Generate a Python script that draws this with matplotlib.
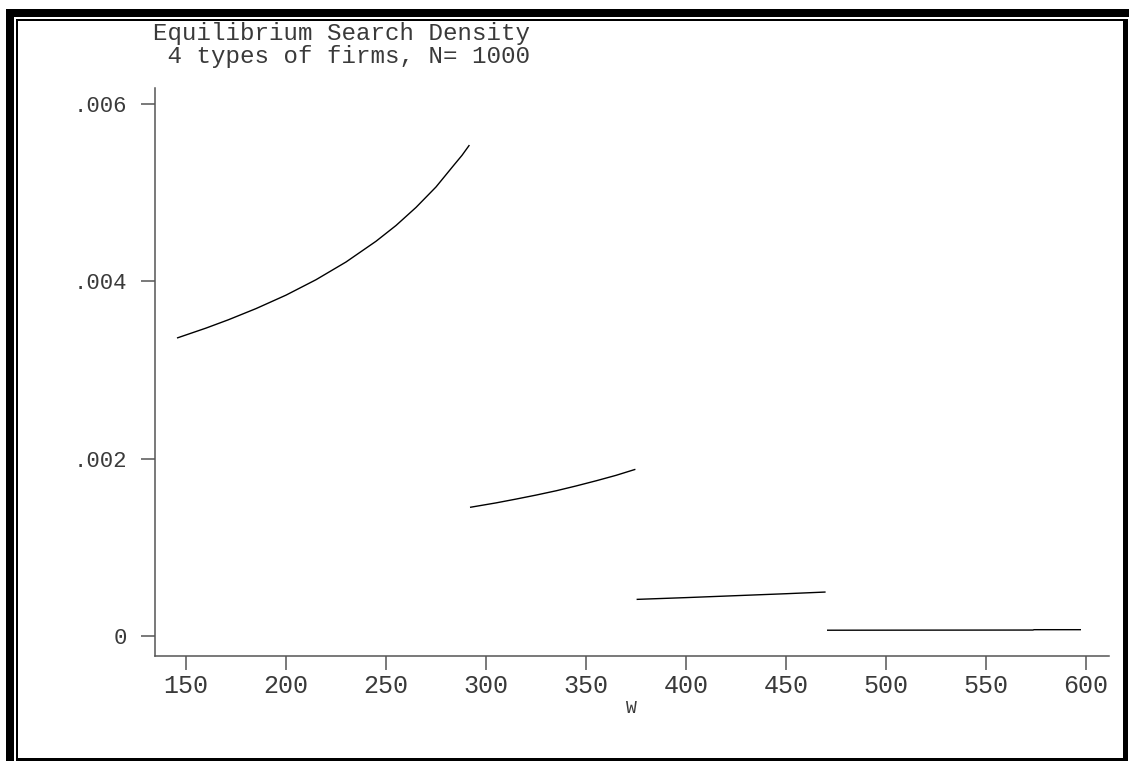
import matplotlib
matplotlib.use("Agg")
import matplotlib.pyplot as plt
from matplotlib.patches import Rectangle

# ---- data, density in units of 1e-3 ----
w1 = [145.5, 160.0, 171.2, 185.0, 200.0, 215.0, 230.0, 245.0, 255.0,
      265.0, 275.0, 283.7, 288.0, 291.7]
d1 = [3.36, 3.472, 3.566, 3.692, 3.844, 4.018, 4.218, 4.452, 4.630,
      4.834, 5.065, 5.305, 5.422, 5.538]
w2 = [292.0, 305.0, 315.0, 325.0, 335.3, 345.0, 355.3, 365.0, 374.7]
d2 = [1.449, 1.499, 1.542, 1.587, 1.637, 1.690, 1.750, 1.810, 1.878]
w3 = [375.3, 400.0, 425.0, 450.0, 469.8]
d3 = [0.410, 0.430, 0.452, 0.474, 0.493]
w4 = [470.5, 520.0, 573.5, 574.0, 597.5]
d4 = [0.062, 0.063, 0.064, 0.068, 0.068]

segments = [(w1, d1), (w2, d2), (w3, d3), (w4, d4)]

xticks = [150, 200, 250, 300, 350, 400, 450, 500, 550, 600]
yticks = [0.0, 0.002, 0.004, 0.006]
ytick_labels = ["0", ".002", ".004", ".006"]
title1 = "Equilibrium Search Density"
title2 = " 4 types of firms, N= 1000"
xlabel = "W"

W, H = 1129, 761
fig = plt.figure(figsize=(W / 100, H / 100), dpi=100)
fig.patch.set_facecolor("white")

FONT = "Liberation Mono"
TXT = "#3a3a3a"

def fx(px):
    return px / W

def fy(py):
    return 1 - py / H

def rect(x0, y0, x1, y1):
    fig.add_artist(Rectangle((fx(x0), fy(y1)), fx(x1) - fx(x0), fy(y0) - fy(y1),
                             transform=fig.transFigure, facecolor="black",
                             edgecolor="none", zorder=10))

# shadow bands (top & left)
rect(6, 9, W, 17)
rect(6, 9, 14, H)
# inner frame
rect(16, 19, 1124, 21)     # top
rect(16, 19, 18, 761)      # left
rect(1123, 19, 1128, 761)  # right
rect(16, 758, 1128, 761)   # bottom

ax_l, ax_r, ax_t, ax_b = 155, 1109, 88, 656
ax = fig.add_axes([fx(ax_l), fy(ax_b), fx(ax_r) - fx(ax_l), fy(ax_t) - fy(ax_b)])

for w, d in segments:
    ax.plot(w, [v * 1e-3 for v in d], color="black", linewidth=1.0,
            solid_capstyle="butt")

ax.set_xlim(134.5, 611.5)
ax.set_ylim(-0.000229, 0.006182)

for s in ["top", "right"]:
    ax.spines[s].set_visible(False)
for s in ["left", "bottom"]:
    ax.spines[s].set_color("#555555")
    ax.spines[s].set_linewidth(1.1)

ax.set_xticks(xticks)
ax.set_xticklabels([str(t) for t in xticks], family=FONT, fontsize=18, color=TXT)
ax.set_yticks(yticks)
ax.set_yticklabels(ytick_labels, family=FONT, fontsize=16, color=TXT)
ax.tick_params(axis="both", direction="out", length=10, width=1.1, color="#555555")
ax.tick_params(axis="y", pad=10)
ax.tick_params(axis="x", pad=3)

fig.text(fx(631), fy(713), xlabel, family=FONT, fontsize=13, color=TXT,
         ha="center", va="baseline")
fig.text(fx(153), fy(40), title1, family=FONT, fontsize=17.4, color=TXT,
         ha="left", va="baseline")
fig.text(fx(153), fy(63), title2, family=FONT, fontsize=17.4, color=TXT,
         ha="left", va="baseline")

fig.savefig("out.png", dpi=100, facecolor="white")
